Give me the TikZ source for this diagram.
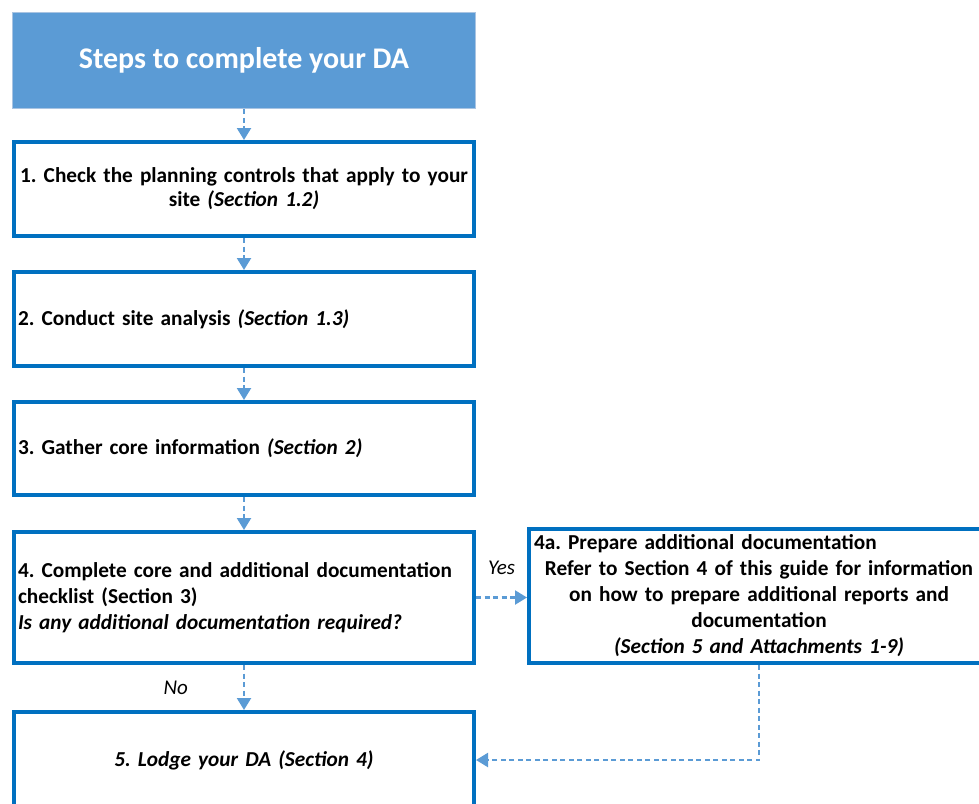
\documentclass[tikz,border=0pt]{standalone}
\usepackage{fontspec}
\setmainfont{Carlito}
\usetikzlibrary{arrows.meta}
\definecolor{stepblue}{HTML}{0070C0}
\definecolor{linkblue}{HTML}{5B9BD5}
\definecolor{headedge}{HTML}{A9C4E2}
\frenchspacing

\begin{document}
\begin{tikzpicture}[x=1pt,y=-1pt,
   stepbox/.style={rectangle,draw=stepblue,line width=4pt,fill=white,minimum width=460pt,
      text width=452pt,inner sep=4pt,font=\fontsize{21.3}{26}\selectfont\bfseries},
   headbox/.style={rectangle,draw=headedge,line width=1.5pt,fill=linkblue,minimum width=463pt,
      minimum height=96pt,text=white,font=\fontsize{30}{36}\selectfont\bfseries},
   link/.style={draw=linkblue,line width=2.2pt,dash pattern=on 5pt off 3.5pt,
      -{Triangle[width=14pt,length=12pt]}},
   answer/.style={inner sep=0pt,font=\fontsize{21}{26}\selectfont\itshape}]
   \useasboundingbox (0,0) rectangle (979,803);
   \node (head) at (244,60.5) [headbox] {Steps to complete your DA};
   \node (step1) at (244,189) [stepbox,minimum height=94pt,align=center]
      {\raisebox{-2pt}{1. Check the planning controls that apply to your}\\ site \textit{(Section 1.2)}};
   \node (step2) at (244,319) [stepbox,minimum height=94pt,align=left]
      {2. Conduct site analysis \textit{(Section 1.3)}};
   \node (step3) at (244,448.5) [stepbox,minimum height=93pt,align=left]
      {3. Gather core information \textit{(Section 2)}};
   \node (step4) at (244,597.5) [stepbox,minimum height=131pt,align=left]
      {4. Complete core and additional documentation\\ checklist (Section 3)\\
       \textit{Is any additional documentation required?}};
   \node (step4a) at (759,596) [stepbox,minimum height=134pt,text width=450pt,inner sep=5pt,align=center]
      {\makebox[\linewidth][l]{4a. Prepare additional documentation}\\
       Refer to Section 4 of this guide for information\\
       on how to prepare additional reports and\\ documentation\\
       \textit{(Section 5 and Attachments 1-9)}};
   \node (step5) at (244,760) [stepbox,minimum height=96pt,align=center]
      {\textit{5. Lodge your DA (Section 4)}};
   \draw[link] (head) to (step1);
   \draw[link] (step1) to (step2);
   \draw[link] (step2) to (step3);
   \draw[link] (step3) to (step4);
   \draw[link] (step4) to node[pos=0.5,left=55pt,answer] (no) {No} (step5);
   \draw[link] (step4.east) to node[pos=0.5,above=22pt,answer] (yes) {Yes} (step4.east -| step4a.west);
   \draw[link] (step4a.south) |- (step5.east);
\end{tikzpicture}
\end{document}
